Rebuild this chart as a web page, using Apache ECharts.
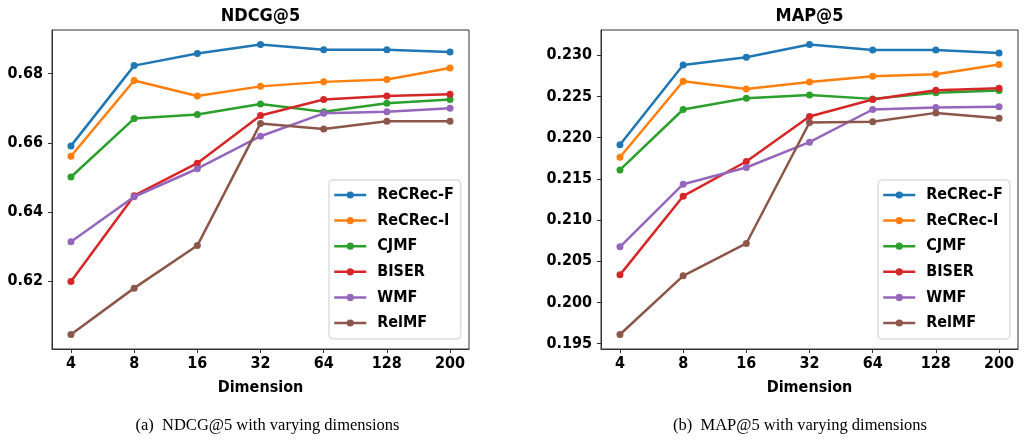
<!DOCTYPE html>
<html><head><meta charset="utf-8">
<script src="https://cdn.jsdelivr.net/npm/echarts@6/dist/echarts.min.js"></script>
<style>html,body{margin:0;padding:0;background:#fff}#c{width:1024px;height:440px}</style>
</head><body><div id="c"></div>
<script>
const dims = ['4','8','16','32','64','128','200'];
const seriesNames = ['ReCRec-F','ReCRec-I','CJMF','BISER','WMF','RelMF'];
const colors = ['#1f77b4','#ff7f0e','#2ca02c','#d62728','#9467bd','#8c564b'];

const ndcgReCRecF = [0.6591,0.6823,0.6858,0.6884,0.6869,0.6869,0.6862];
const ndcgReCRecI = [0.6561,0.6780,0.6735,0.6763,0.6776,0.6783,0.6816];
const ndcgCJMF    = [0.6501,0.6670,0.6682,0.6712,0.6690,0.6714,0.6725];
const ndcgBISER   = [0.6199,0.6447,0.6541,0.6679,0.6725,0.6735,0.6740];
const ndcgWMF     = [0.6314,0.6444,0.6525,0.6619,0.6685,0.6690,0.6700];
const ndcgRelMF   = [0.6046,0.6180,0.6303,0.6656,0.6640,0.6662,0.6662];

const mapReCRecF = [0.21912,0.22882,0.22976,0.23130,0.23064,0.23064,0.23028];
const mapReCRecI = [0.21762,0.22684,0.22591,0.22676,0.22745,0.22769,0.22887];
const mapCJMF    = [0.21608,0.22341,0.22478,0.22518,0.22470,0.22543,0.22571];
const mapBISER   = [0.20334,0.21289,0.21710,0.22256,0.22462,0.22575,0.22600];
const mapWMF     = [0.20674,0.21434,0.21637,0.21944,0.22341,0.22365,0.22373];
const mapRelMF   = [0.19610,0.20322,0.20715,0.22183,0.22191,0.22300,0.22235];

const ndcgTicks = [0.62,0.64,0.66,0.68];
const mapTicks = [0.195,0.200,0.205,0.210,0.215,0.220,0.225,0.230];

const ndcgAll = [ndcgReCRecF,ndcgReCRecI,ndcgCJMF,ndcgBISER,ndcgWMF,ndcgRelMF];
const mapAll = [mapReCRecF,mapReCRecI,mapCJMF,mapBISER,mapWMF,mapRelMF];

const FONT = "'DejaVu Sans Condensed','DejaVu Sans',sans-serif";
function ext(arrs){let lo=Infinity,hi=-Infinity;arrs.forEach(a=>a.forEach(v=>{lo=Math.min(lo,v);hi=Math.max(hi,v);}));const m=(hi-lo)*0.05;return [lo-m,hi+m];}
const ne = ext(ndcgAll), me = ext(mapAll);

const grids = [
  {left:52, top:30, width:417, height:319},
  {left:601, top:30, width:417, height:319}
];
function xAxis(gi){return {type:'value', gridIndex:gi, min:-0.3, max:6.3,
  name:'Dimension', nameLocation:'middle', nameGap:31,
  nameTextStyle:{fontFamily:FONT,fontWeight:'bold',fontSize:16,color:'#000'},
  axisLine:{show:true,onZero:false,lineStyle:{color:'#333',width:1}},
  axisTick:{show:true,length:4,customValues:[0,1,2,3,4,5,6],lineStyle:{color:'#333'}},
  axisLabel:{customValues:[0,1,2,3,4,5,6],margin:7,fontFamily:FONT,fontWeight:'bold',fontSize:16,color:'#000',formatter:v=>dims[Math.round(v)]},
  splitLine:{show:false}};}
function yAxis(gi,e,ticks,dec){return {type:'value', gridIndex:gi, min:e[0], max:e[1],
  axisLine:{show:true,onZero:false,lineStyle:{color:'#333',width:1}},
  axisTick:{show:true,length:4,customValues:ticks,lineStyle:{color:'#333'}},
  axisLabel:{customValues:ticks,margin:9,fontFamily:FONT,fontWeight:'bold',fontSize:16,color:'#000',formatter:v=>v.toFixed(dec)},
  splitLine:{show:false}};}

const series = [];
[ndcgAll,mapAll].forEach((all,gi)=>{
  all.forEach((arr,si)=>{
    series.push({type:'line', name:seriesNames[si], xAxisIndex:gi, yAxisIndex:gi,
      data:arr.map((v,i)=>[i,v]), symbol:'circle', symbolSize:7, showSymbol:true,
      color:colors[si], lineStyle:{width:2.5,color:colors[si]}, itemStyle:{color:colors[si]},
      emphasis:{disabled:true}, animation:false, z:2+si});
  });
});
function legend(left){return {orient:'vertical', left:left, top:180, data:seriesNames,
  itemWidth:32, itemHeight:9, itemGap:9.6, padding:[7,7,8,4],
  lineStyle:{width:2.5},
  backgroundColor:'rgba(255,255,255,0.8)', borderColor:'#ccc', borderWidth:1, borderRadius:4,
  textStyle:{fontFamily:FONT,fontWeight:'bold',fontSize:16,color:'#000',lineHeight:16,padding:[0,0,0,6]}};}

const chart = echarts.init(document.getElementById('c'),null,{renderer:'canvas'});
chart.setOption({
  animation:false,
  grid: grids.map(g=>Object.assign({show:true,borderColor:'#333',borderWidth:1,backgroundColor:'transparent'},g)),
  xAxis:[xAxis(0),xAxis(1)],
  yAxis:[yAxis(0,ne,ndcgTicks,2),yAxis(1,me,mapTicks,3)],
  legend:[legend(329),legend(878)],
  series:series,
  graphic:[
    {type:'text',x:260.5,y:16,style:{text:'NDCG@5',textAlign:'center',textVerticalAlign:'middle',font:"bold 18px "+FONT,fill:'#000'}},
    {type:'text',x:809.5,y:16,style:{text:'MAP@5',textAlign:'center',textVerticalAlign:'middle',font:"bold 18px "+FONT,fill:'#000'}},
    {type:'text',x:267.5,y:426,style:{text:'(a)  NDCG@5 with varying dimensions',textAlign:'center',textVerticalAlign:'middle',font:"16.5px 'Liberation Serif',serif",fill:'#000'}},
    {type:'text',x:800,y:426,style:{text:'(b)  MAP@5 with varying dimensions',textAlign:'center',textVerticalAlign:'middle',font:"16.5px 'Liberation Serif',serif",fill:'#000'}}
  ]
});
</script></body></html>
